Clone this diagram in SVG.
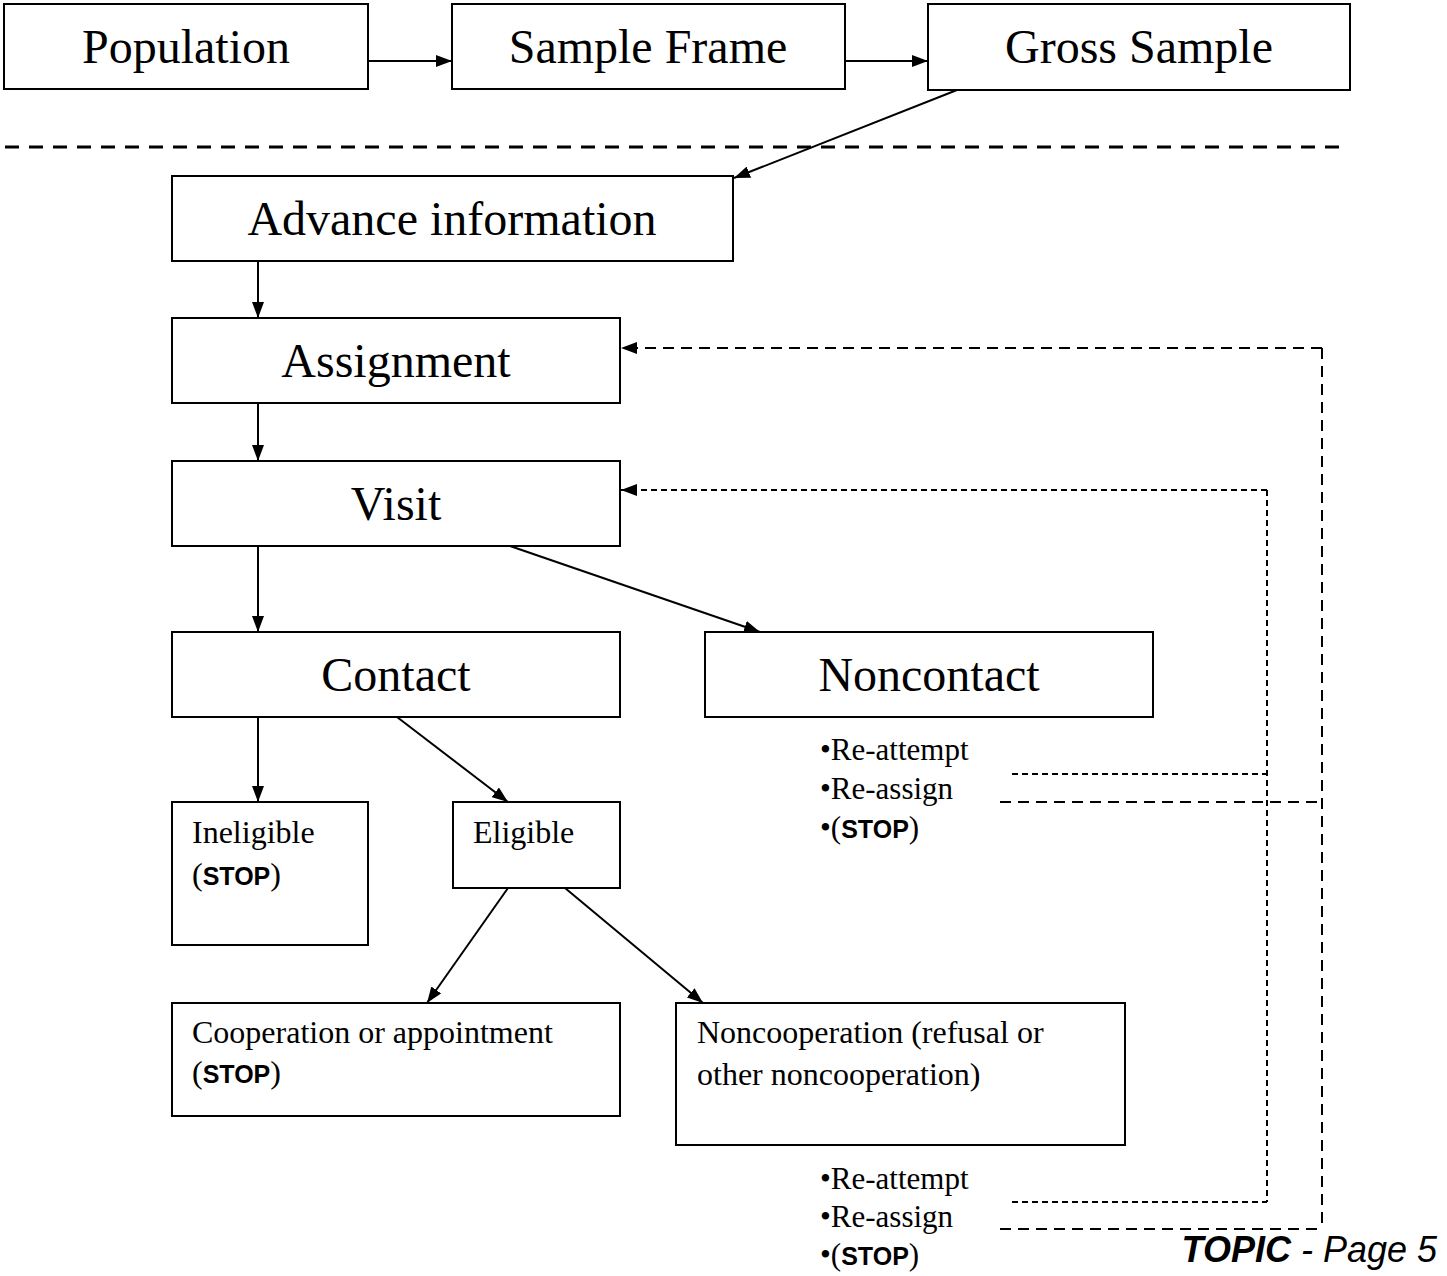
<svg xmlns="http://www.w3.org/2000/svg" width="1447" height="1276" viewBox="0 0 1447 1276">
<defs>
<style>
.box{fill:#fff;stroke:#000;stroke-width:2}
.big{font-family:"Liberation Serif",serif;font-size:48px;fill:#000;text-anchor:middle}
.sm{font-family:"Liberation Serif",serif;font-size:32px;fill:#000}
.opt{font-family:"Liberation Serif",serif;font-size:31px;fill:#000}
.stop{font-family:"Liberation Sans",sans-serif;font-weight:bold;font-size:25px}
.ln{stroke:#000;stroke-width:2;fill:none}
.dl{stroke:#000;stroke-width:2;fill:none;stroke-dasharray:11 7}
.ds{stroke:#000;stroke-width:2;fill:none;stroke-dasharray:6 4}
.sep{stroke:#000;stroke-width:3;fill:none;stroke-dasharray:14 10}
.foot{font-family:"Liberation Sans",sans-serif;font-style:italic;font-size:36px;fill:#000;text-anchor:end}
</style>
<marker id="ah" viewBox="0 0 16 12" refX="16" refY="6" markerWidth="16" markerHeight="12" markerUnits="userSpaceOnUse" orient="auto">
<path d="M0,0 L16,6 L0,12 Z" fill="#000"/>
</marker>
</defs>

<g id="connectors">
<line class="ln" x1="368" y1="61" x2="452" y2="61" marker-end="url(#ah)"/>
<line class="ln" x1="845" y1="61" x2="928" y2="61" marker-end="url(#ah)"/>
<line class="sep" x1="5" y1="147" x2="1347" y2="147"/>
<line class="ln" x1="957" y1="90" x2="734" y2="178" marker-end="url(#ah)"/>
<line class="ln" x1="258" y1="261" x2="258" y2="318" marker-end="url(#ah)"/>
<line class="ln" x1="258" y1="403" x2="258" y2="461" marker-end="url(#ah)"/>
<line class="ln" x1="258" y1="546" x2="258" y2="632" marker-end="url(#ah)"/>
<line class="ln" x1="510" y1="546" x2="760" y2="632" marker-end="url(#ah)"/>
<line class="ln" x1="258" y1="717" x2="258" y2="802" marker-end="url(#ah)"/>
<line class="ln" x1="397" y1="717" x2="508" y2="802" marker-end="url(#ah)"/>
<line class="ln" x1="508" y1="888" x2="427" y2="1003" marker-end="url(#ah)"/>
<line class="ln" x1="565" y1="888" x2="703" y2="1003" marker-end="url(#ah)"/>
<!-- re-assign loop -->
<line class="dl" x1="1322" y1="348" x2="621" y2="348" marker-end="url(#ah)"/>
<line class="dl" x1="1322" y1="348" x2="1322" y2="1229"/>
<line class="dl" x1="1000" y1="802" x2="1322" y2="802"/>
<line class="dl" x1="1000" y1="1229" x2="1322" y2="1229"/>
<!-- re-attempt loop -->
<line class="ds" x1="1267" y1="490" x2="621" y2="490" marker-end="url(#ah)"/>
<line class="ds" x1="1267" y1="490" x2="1267" y2="1202"/>
<line class="ds" x1="1012" y1="774" x2="1267" y2="774"/>
<line class="ds" x1="1012" y1="1202" x2="1267" y2="1202"/>
</g>

<g id="population"><rect class="box" x="4" y="4" width="364" height="85"/><text class="big" x="186" y="63">Population</text></g>
<g id="sample-frame"><rect class="box" x="452" y="4" width="393" height="85"/><text class="big" x="648" y="63">Sample Frame</text></g>
<g id="gross-sample"><rect class="box" x="928" y="4" width="422" height="86"/><text class="big" x="1139" y="63">Gross Sample</text></g>
<g id="advance-information"><rect class="box" x="172" y="176" width="561" height="85"/><text class="big" x="452" y="235">Advance information</text></g>
<g id="assignment"><rect class="box" x="172" y="318" width="448" height="85"/><text class="big" x="396" y="377">Assignment</text></g>
<g id="visit"><rect class="box" x="172" y="461" width="448" height="85"/><text class="big" x="396" y="520">Visit</text></g>
<g id="contact"><rect class="box" x="172" y="632" width="448" height="85"/><text class="big" x="396" y="691">Contact</text></g>
<g id="noncontact"><rect class="box" x="705" y="632" width="448" height="85"/><text class="big" x="929" y="691">Noncontact</text></g>
<g id="ineligible"><rect class="box" x="172" y="802" width="196" height="143"/>
<text class="sm" x="192" y="843">Ineligible</text>
<text class="sm" x="192" y="885">(<tspan class="stop">STOP</tspan>)</text></g>
<g id="eligible"><rect class="box" x="453" y="802" width="167" height="86"/><text class="sm" x="473" y="843">Eligible</text></g>
<g id="cooperation"><rect class="box" x="172" y="1003" width="448" height="113"/>
<text class="sm" x="192" y="1043">Cooperation or appointment</text>
<text class="sm" x="192" y="1083">(<tspan class="stop">STOP</tspan>)</text></g>
<g id="noncooperation"><rect class="box" x="676" y="1003" width="449" height="142"/>
<text class="sm" x="697" y="1043">Noncooperation (refusal or</text>
<text class="sm" x="697" y="1085">other noncooperation)</text></g>

<g id="noncontact-options">
<text class="opt" x="820" y="760">•Re-attempt</text>
<text class="opt" x="820" y="799">•Re-assign</text>
<text class="opt" x="820" y="838">•(<tspan class="stop">STOP</tspan>)</text>
</g>
<g id="noncooperation-options">
<text class="opt" x="820" y="1189">•Re-attempt</text>
<text class="opt" x="820" y="1227">•Re-assign</text>
<text class="opt" x="820" y="1265">•(<tspan class="stop">STOP</tspan>)</text>
</g>
<text class="foot" x="1437" y="1262"><tspan font-weight="bold">TOPIC</tspan> - Page 5</text>
</svg>
